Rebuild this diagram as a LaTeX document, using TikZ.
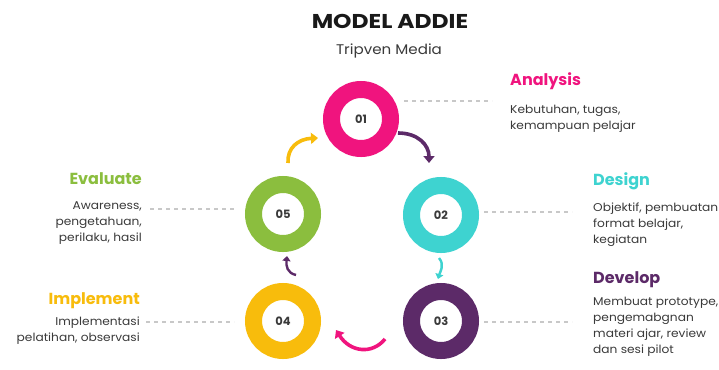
\documentclass[tikz,border=0pt]{standalone}
\usepackage{fontspec}
\setmainfont{Poppins}
\newfontfamily\bodyfont[FakeStretch=1.08]{Poppins}
\usetikzlibrary{arrows.meta}
\definecolor{cpink}{HTML}{F0147E}
\definecolor{cteal}{HTML}{3ED3D0}
\definecolor{cpurple}{HTML}{5C2A68}
\definecolor{cyellow}{HTML}{F8BC0C}
\definecolor{cgreen}{HTML}{8BBE3E}
\definecolor{ctext}{HTML}{3A3A3A}
\definecolor{cdash}{HTML}{C8C8C8}
\tikzset{
  ring/.style={circle, line width=17pt, minimum size=59pt, inner sep=0pt, font=\bfseries\fontsize{11.5}{12}\selectfont, text=ctext},
  conn/.style={line width=3.6pt, -{Triangle[length=7pt,width=11pt]}},
  thinconn/.style={line width=2.4pt, -{Triangle[length=5pt,width=8pt]}},
  dline/.style={draw=cdash, line width=1.3pt, dash pattern=on 4pt off 4pt},
  head/.style={font=\bfseries\fontsize{16}{18}\selectfont, inner sep=0pt},
  body/.style={font=\bodyfont\fontsize{11.3}{16}\selectfont, text=ctext, inner sep=0pt, align=left},
  bodyr/.style={font=\bodyfont\fontsize{11.3}{16}\selectfont, text=ctext, inner sep=0pt, align=right}
}
\begin{document}
\begin{tikzpicture}[x=1pt,y=-1pt]
\useasboundingbox[fill=white] (0,0) rectangle (719,369);
% title
\node[font=\bfseries\fontsize{20}{22}\selectfont, text=black!90] (title) at (390,21) {\scalebox{1.17}[1]{MODEL ADDIE}};
\node[font=\fontsize{14}{16}\selectfont, text=ctext] (sub) at (389,51) {\scalebox{1.08}[1]{Tripven Media}};
% rings
\node[ring, draw=cpink] (c1) at (361,119) {01};
\node[ring, draw=cteal] (c2) at (441,215) {02};
\node[ring, draw=cpurple] (c3) at (441,321) {03};
\node[ring, draw=cyellow] (c4) at (283,321) {04};
\node[ring, draw=cgreen] (c5) at (283,214) {05};
% arrow end points
\coordinate (a1s) at (398,133); \coordinate (a1e) at (429,163);
\coordinate (a2s) at (439,258); \coordinate (a2e) at (438,279);
\coordinate (a3s) at (385,339); \coordinate (a3e) at (336,330);
\coordinate (a4s) at (296,275); \coordinate (a4e) at (287,256);
\coordinate (a5s) at (288,163); \coordinate (a5e) at (318,138);
\draw[conn, draw=cpurple] (a1s) .. controls (418,133) and (429,145) .. (a1e);
\draw[thinconn, draw=cteal] (a2s) .. controls (445,265) and (440,272) .. (a2e);
\draw[conn, draw=cpink] (a3s) .. controls (372,355) and (350,352) .. (a3e);
\draw[thinconn, draw=cpurple] (a4s) .. controls (287,273) and (286,266) .. (a4e);
\draw[conn, draw=cyellow] (a5s) .. controls (287,148) and (298,139) .. (a5e);
% dashed leaders
\coordinate (d1s) at (404,101); \coordinate (d1e) at (492,101);
\coordinate (d2s) at (484,212); \coordinate (d2e) at (572,212);
\coordinate (d3s) at (484,322); \coordinate (d3e) at (572,322);
\coordinate (d4s) at (146,322); \coordinate (d4e) at (234,322);
\coordinate (d5s) at (150,209); \coordinate (d5e) at (236,209);
\draw[dline] (d1s) -- (d1e);
\draw[dline] (d2s) -- (d2e);
\draw[dline] (d3s) -- (d3e);
\draw[dline] (d4s) -- (d4e);
\draw[dline] (d5s) -- (d5e);
% labels
\node[head, text=cpink, anchor=west] (h1) at (510,81) {Analysis};
\node[body, anchor=north west] (b1) at (510,105) {Kebutuhan, tugas,\\kemampuan pelajar};
\node[head, text=cteal, anchor=west] (h2) at (593,181) {Design};
\node[body, anchor=north west] (b2) at (593,203) {Objektif, pembuatan\\format belajar,\\kegiatan};
\node[head, text=cpurple, anchor=west] (h3) at (593,280) {Develop};
\node[body, anchor=north west] (b3) at (593,297) {Membuat prototype,\\pengemabgnan\\materi ajar, review\\dan sesi pilot};
\node[head, text=cgreen, anchor=east] (h5) at (142,179) {Evaluate};
\node[bodyr, anchor=north east] (b5) at (142,201) {Awareness,\\pengetahuan,\\perilaku, hasil};
\node[head, text=cyellow, anchor=east] (h4) at (140,301) {Implement};
\node[bodyr, anchor=north east] (b4) at (140,317) {Implementasi\\pelatihan, observasi};
\end{tikzpicture}
\end{document}
